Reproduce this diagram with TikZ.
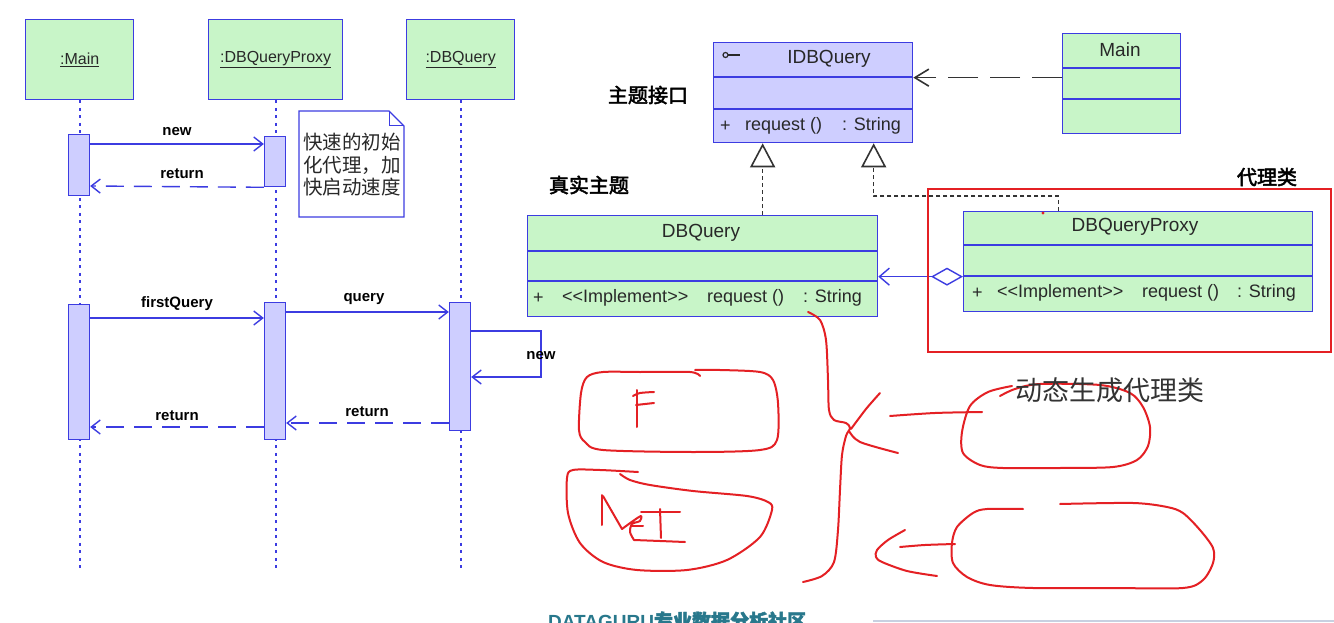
\documentclass[tikz,border=0pt]{standalone}
\usepackage{fontspec}
\setmainfont{Liberation Sans}
\newfontfamily\cjk{Noto Sans CJK SC}
\newfontfamily\cjkb[FakeBold=2.5]{Noto Sans CJK SC}
\usetikzlibrary{arrows.meta,calc}
\definecolor{ublue}{RGB}{60,60,225}
\definecolor{ugreen}{RGB}{200,245,200}
\definecolor{ulav}{RGB}{206,206,255}
\definecolor{hred}{RGB}{228,32,36}
\definecolor{utext}{RGB}{40,40,40}
\definecolor{wmteal}{RGB}{40,120,140}
\definecolor{faint}{RGB}{200,208,225}
\tikzset{
  lifebox/.style={draw=ublue, fill=ugreen, line width=1.3pt, minimum height=80pt, anchor=north west, inner sep=0pt, text=utext, font=\fontsize{16}{19}\selectfont},
  lifeline/.style={draw=ublue, line width=2.2pt, dash pattern=on 3pt off 4.5pt},
  actbox/.style={draw=ublue, fill=ulav, line width=1.3pt, minimum width=21pt, anchor=north, inner sep=0pt},
  msg/.style={draw=ublue, line width=1.4pt, -{Straight Barb[length=9pt,width=14pt]}},
  retmsg/.style={msg, dash pattern=on 18pt off 10pt},
  msglbl/.style={inner sep=0pt, font=\fontsize{15}{17}\selectfont\bfseries, text=black},
  clsbox/.style={draw=ublue, fill=ugreen, line width=1.3pt, anchor=north west, inner sep=0pt},
  divider/.style={draw=ublue, line width=1.3pt},
  clstitle/.style={inner sep=0pt, font=\fontsize{19}{22}\selectfont, text=utext},
  clsrow/.style={inner sep=0pt, anchor=west, font=\fontsize{18}{21}\selectfont, text=utext},
  realz/.style={draw=black!80, line width=1.6pt, dash pattern=on 4pt off 3pt, -{Triangle[open,length=24pt,width=25pt]}},
  depend/.style={draw=black!80, line width=1.6pt, dash pattern=on 30pt off 12pt, -{Straight Barb[length=14pt,width=17pt]}},
  aggr/.style={draw=ublue, line width=1.4pt, {Diamond[open,length=32pt,width=18pt]}-{Straight Barb[length=10pt,width=17pt]}},
  cnlbl/.style={inner sep=0pt, font=\cjkb\fontsize{20}{22}\selectfont, text=black},
  hand/.style={draw=hred, line width=2pt, line cap=round, line join=round},
}
\begin{document}
\begin{tikzpicture}[x=1pt,y=-1pt]
\useasboundingbox (0,0) rectangle (1334,623);
\clip (0,0) rectangle (1334,623);
\fill[white] (0,0) rectangle (1334,623);

% ---------------- sequence diagram ----------------
\node[lifebox, minimum width=108pt] (m) at (25,19) {\underline{:Main}};
\node[lifebox, minimum width=134pt] (p) at (208,19) {\underline{:DBQueryProxy}};
\node[lifebox, minimum width=108pt] (d) at (406,19) {\underline{:DBQuery}};

\draw[lifeline] (m.south) -- ($(m.south)+(0,471)$);
\draw[lifeline] (p.south) -- ($(p.south)+(0,471)$);
\draw[lifeline] (d.south) -- ($(d.south)+(0,471)$);

\node[actbox, minimum height=61pt] (a1) at (79,134) {};
\node[actbox, minimum height=50pt] (p1) at (275,136) {};
\node[actbox, minimum height=135pt] (a2) at (79,304) {};
\node[actbox, minimum height=137pt] (p2) at (275,302) {};
\node[actbox, minimum height=128pt] (d1) at (460,302) {};

\draw[msg] ($(a1.north east)+(0,10)$) -- ($(p1.north west)+(0,8)$);
\node[msglbl] (l1) at (177,132) {new};
\draw[retmsg] (p1.south west) -- ($(a1.north east)+(0,52)$);
\node[msglbl] (l2) at (182,174) {return};

\draw[msg] ($(a2.north east)+(0,14)$) -- ($(p2.north west)+(0,16)$);
\node[msglbl] (l3) at (177,304) {firstQuery};
\draw[msg] ($(p2.north east)+(0,10)$) -- ($(d1.north west)+(0,10)$);
\node[msglbl] (l4) at (364,299) {query};
\draw[msg] ($(d1.north east)+(0,29)$) -- ++(70,0) -- ++(0,46) -- ($(d1.north east)+(0,75)$);
\node[msglbl] (l5) at (541,356) {new};
\draw[retmsg] ($(d1.north west)+(0,121)$) -- ($(p2.north east)+(0,121)$);
\node[msglbl] (l6) at (367,412) {return};
\draw[retmsg] ($(p2.north west)+(0,125)$) -- ($(a2.north east)+(0,123)$);
\node[msglbl] (l7) at (177,416) {return};

% note
\draw[draw=ublue, fill=white, line width=1.3pt] (299,111) -- (389,111) -- (404,126) -- (404,217) -- (299,217) -- cycle;
\draw[draw=ublue, line width=1pt] (389,111) -- (389,126) -- (404,126);
\node[inner sep=0pt, align=left, font=\cjk\fontsize{19.5}{22.5}\selectfont, text=utext] (note) at (352,165) {快速的初始\\化代理，加\\快启动速度};

% ---------------- class diagram ----------------
\node[clsbox, fill=ulav, minimum width=199pt, minimum height=100pt] (idb) at (713,42) {};
\draw[divider] ($(idb.north west)+(0,35)$) -- ($(idb.north east)+(0,35)$);
\draw[divider] ($(idb.north west)+(0,67)$) -- ($(idb.north east)+(0,67)$);
\node[clstitle] (idbt) at (829,59) {IDBQuery};
\draw[utext, line width=1.2pt] (728,55) -- (740,55);
\draw[utext, line width=1.2pt] (725.5,55) circle (2.5);
\node[clsrow] (idbp) at (720,126) {+};
\node[clsrow] (idbr) at (745,126) {request ()};
\node[clsrow] (idbs) at (842,126) {: String};

\node[clsbox, minimum width=118pt, minimum height=100pt] (mc) at (1062,33) {};
\draw[divider] ($(mc.north west)+(0,35)$) -- ($(mc.north east)+(0,35)$);
\draw[divider] ($(mc.north west)+(0,66)$) -- ($(mc.north east)+(0,66)$);
\node[clstitle] (mct) at (1120,50) {Main};

\node[clsbox, minimum width=350pt, minimum height=101pt] (dbq) at (527,215) {};
\draw[divider] ($(dbq.north west)+(0,36)$) -- ($(dbq.north east)+(0,36)$);
\draw[divider] ($(dbq.north west)+(0,66)$) -- ($(dbq.north east)+(0,66)$);
\node[clstitle] (dbqt) at (701,233) {DBQuery};
\node[clsrow] (dbqp) at (533,298) {+};
\node[clsrow] (dbqi) at (562,298) {<{}<Implement>{}>};
\node[clsrow] (dbqr) at (707,298) {request ()};
\node[clsrow] (dbqs) at (803,298) {: String};

\node[clsbox, minimum width=349pt, minimum height=100pt] (prx) at (963,211) {};
\draw[divider] ($(prx.north west)+(0,34)$) -- ($(prx.north east)+(0,34)$);
\draw[divider] ($(prx.north west)+(0,65)$) -- ($(prx.north east)+(0,65)$);
\node[clstitle] (prxt) at (1135,227) {DBQueryProxy};
\node[clsrow] (prxp) at (972,293) {+};
\node[clsrow] (prxi) at (997,293) {<{}<Implement>{}>};
\node[clsrow] (prxr) at (1142,293) {request ()};
\node[clsrow] (prxs) at (1237,293) {: String};

% relations
\coordinate (dp0) at ($(mc.west)+(0,-6)$);
\draw[depend] (dp0) -- (dp0 -| idb.east);
\draw[realz] ($(dbq.north)+(60,0)$) -- ($(idb.south)+(-50.5,0)$);
\draw[realz] ($(prx.north)+(-79.5,0)$) |- ($(idb.south)+(60.5,53)$) -- ($(idb.south)+(60.5,0)$);
\coordinate (ag0) at ($(prx.west)+(0,15)$);
\draw[aggr] (ag0) -- (ag0 -| dbq.east);

% labels
\node[cnlbl] (lb1) at (648,95) {主题接口};
\node[cnlbl] (lb2) at (589,185) {真实主题};
\node[cnlbl] (lb3) at (1267,177) {代理类};

% red box
\node[draw=hred, line width=2.2pt, minimum width=403pt, minimum height=163pt, anchor=north west, inner sep=0pt] (rb) at (927,188) {};
\fill[hred] (1043,213) circle (1.6);

% ---------------- handwriting ----------------
\draw[hand] plot[smooth] coordinates {(808,312) (820,320) (826,340) (828,380) (829,410) (834,420) (846,423) (850,428) (846,436) (842,455) (840,490) (838,530) (834,562) (822,576) (803,582)};
\draw[hand] plot[smooth] coordinates {(880,393) (866,409) (851,429)};
\draw[hand] plot[smooth] coordinates {(849,431) (860,442) (898,453)};
\draw[hand] plot[smooth] coordinates {(890,416) (935,413) (982,412)};
\draw[hand] plot[smooth] coordinates {(1012,386) (988,392) (970,406) (962,432) (963,453) (980,465) (1003,468) (1060,468) (1113,467) (1137,460) (1148,446) (1150,427) (1143,407) (1130,393) (1100,385) (1040,384) (1015,389) (1000,396)};

\draw[hand] plot[smooth] coordinates {(905,530) (888,540) (877,550) (876,557) (882,562) (907,571) (937,576)};
\draw[hand] plot[smooth] coordinates {(900,547) (925,545) (955,544)};
\draw[hand] plot[smooth] coordinates {(1023,509) (987,509) (973,513) (957,527) (952,543) (953,563) (967,577) (990,585) (1033,588) (1110,588) (1183,588) (1203,580) (1213,563) (1213,548) (1200,530) (1183,513) (1167,507) (1133,503) (1060,504)};

\draw[hand] plot[smooth] coordinates {(700,376) (690,372) (640,372) (603,372) (587,377) (581,393) (579,430) (585,442) (603,450) (693,452) (760,450) (777,440) (778,403) (773,380) (760,372) (720,370) (695,370)};
\draw[hand] (637,390) -- (637,427);
\draw[hand] plot[smooth] coordinates {(633,396) (640,393) (654,392)};
\draw[hand] plot[smooth] coordinates {(636,405) (645,404) (654,403)};

\draw[hand] plot[smooth] coordinates {(638,472) (600,470) (573,470) (567,478) (568,513) (580,543) (603,562) (637,570) (687,570) (727,560) (760,537) (772,510) (768,502) (747,496) (693,491) (650,485) (630,480) (620,474)};
\draw[hand] (602,495) -- (602,525);
\draw[hand] (603,496) -- (622,529);
\draw[hand] plot[smooth] coordinates {(622,529) (633,521) (641,516) (640,521) (632,524) (630,532) (634,540)};
\draw[hand] (631,526) -- (643,526);
\draw[hand] plot[smooth] coordinates {(634,540) (660,541) (685,542)};
\draw[hand] (660,509) -- (661,538);
\draw[hand] (641,512) -- (680,512);

\node[inner sep=0pt, font=\cjk\fontsize{27}{30}\selectfont, text=black!80] (dyn) at (1110,390) {动态生成代理类};

% watermark, cut off at the bottom as in the reference
\draw[faint, line width=2pt] (873,621) -- (1334,621);
\node[inner sep=0pt, anchor=base west, text=wmteal, font=\fontsize{19}{22}\selectfont] (wm) at (548,628) {\bfseries DATAGURU{\cjkb 专业数据分析社区}};
\end{tikzpicture}
\end{document}
